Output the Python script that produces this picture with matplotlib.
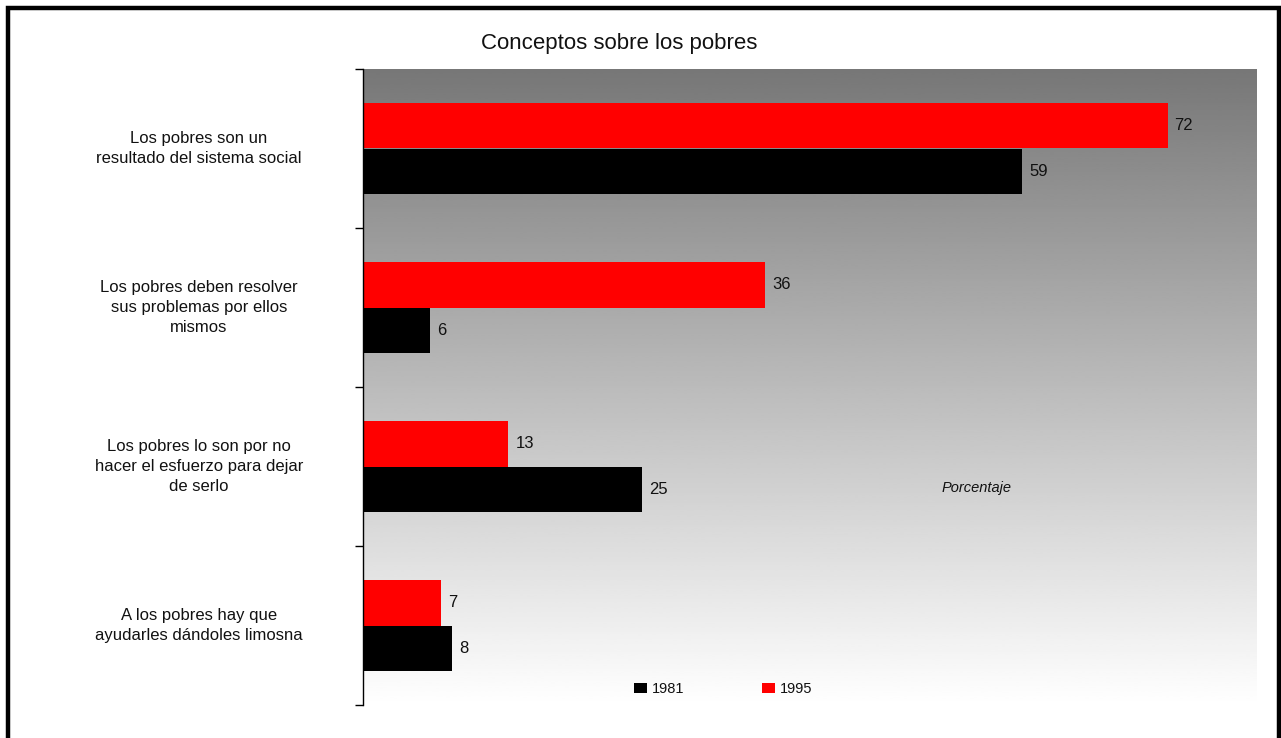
import numpy as np
import matplotlib
matplotlib.use("Agg")
import matplotlib.pyplot as plt
import matplotlib.transforms as mtransforms
from matplotlib.patches import Rectangle, Patch

plt.rcParams['font.family'] = ['Liberation Sans', 'DejaVu Sans']

categories = [
    "Los pobres son un\nresultado del sistema social",
    "Los pobres deben resolver\nsus problemas por ellos\nmismos",
    "Los pobres lo son por no\nhacer el esfuerzo para dejar\nde serlo",
    "A los pobres hay que\nayudarles dándoles limosna",
]
values_1995 = [72, 36, 13, 7]
values_1981 = [59, 6, 25, 8]
series_names = ["1981", "1995"]
title = "Conceptos sobre los pobres"
xlabel = "Porcentaje"

W, H = 1281, 738
fig = plt.figure(figsize=(W / 100, H / 100), dpi=100)
fig.patch.set_facecolor("white")

ax_left, ax_right, ax_top, ax_bottom = 363, 1257, 69, 705
ax = fig.add_axes([ax_left / W, 1 - ax_bottom / H, (ax_right - ax_left) / W, (ax_bottom - ax_top) / H])

n = len(categories)
y = np.arange(n)
bh = 0.285

ax.set_xlim(0, 80)
ax.set_ylim(n - 0.5, -0.5)

# gradient background
grad = np.linspace(0.467, 1.0, 256).reshape(-1, 1)
ax.imshow(grad, cmap="gray", vmin=0, vmax=1, aspect="auto",
          extent=[0, 80, n - 0.5, -0.5], zorder=0, interpolation="bilinear")

bars95 = ax.barh(y - bh / 2, values_1995, height=bh, color="#ff0000", zorder=2, linewidth=0)
bars81 = ax.barh(y + bh / 2, values_1981, height=bh, color="#000000", zorder=2, linewidth=0)

for bars, vals in ((bars95, values_1995), (bars81, values_1981)):
    for b, v in zip(bars, vals):
        ax.annotate(str(v), xy=(v, b.get_y() + b.get_height() / 2),
                    xytext=(7, 0), textcoords="offset pixels",
                    ha="left", va="center", fontsize=12, color="#111111", zorder=3)

# axes styling
for s in ("top", "right", "bottom"):
    ax.spines[s].set_visible(False)
ax.spines["left"].set_color("#000000")
ax.spines["left"].set_linewidth(1.0)
ax.set_xticks([])
ax.set_yticks(np.arange(n + 1) - 0.5)
ax.set_yticklabels([])
ax.tick_params(axis="y", direction="out", length=5.5, width=1.0, color="#000000")

trans = mtransforms.blended_transform_factory(ax.transAxes, ax.transData)
label_x = (199 - ax_left) / (ax_right - ax_left)
for yi, lab in zip(y, categories):
    ax.text(label_x, yi, lab, transform=trans, ha="center", va="center",
            multialignment="center", fontsize=12, linespacing=1.4, color="#111111")

fig.text(619 / W, 1 - 43 / H, title, ha="center", va="center", fontsize=16, color="#111111")
fig.text(977 / W, 1 - 488 / H, xlabel, ha="center", va="center", fontsize=10.5,
         style="italic", color="#111111")

handles = [Patch(facecolor="#000000", edgecolor="none"), Patch(facecolor="#ff0000", edgecolor="none")]
leg = fig.legend(handles, series_names, loc="center", bbox_to_anchor=(723 / W, 1 - 689 / H),
                 bbox_transform=fig.transFigure, ncol=2, frameon=False, fontsize=10.5,
                 handlelength=0.95, handleheight=0.75, handletextpad=0.3, columnspacing=5.3,
                 borderpad=0, borderaxespad=0)
for t in leg.get_texts():
    t.set_color("#111111")

# outer frame
frame = Rectangle((8 / W, -0.05), (1279 - 8) / W, (1 - 8 / H) + 0.05, transform=fig.transFigure,
                  fill=False, edgecolor="#000000", linewidth=3.2, zorder=10)
fig.patches.append(frame)

fig.savefig("out.png", dpi=100, facecolor="white")
